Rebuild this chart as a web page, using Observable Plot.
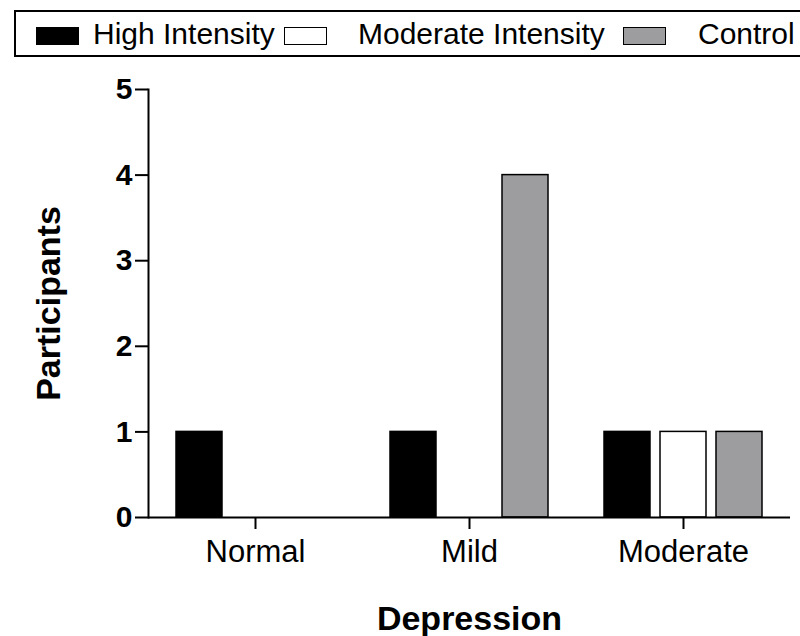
<!DOCTYPE html>
<html>
<head>
<meta charset="utf-8">
<script src="https://cdn.jsdelivr.net/npm/d3@7"></script>
<script src="https://cdn.jsdelivr.net/npm/@observablehq/plot@0.6"></script>
<style>
  body { margin: 0; background: #fff; font-family: "Liberation Sans", Arial, sans-serif; width: 800px; height: 636px; overflow: hidden; position: relative; }
  #legend { position: absolute; left: 14px; top: 10px; width: 820px; height: 47px; border: 2px solid #000; box-sizing: border-box; font-size: 30px; }
  .sw { position: absolute; top: 15px; width: 43px; height: 18px; border: 1.5px solid #000; box-sizing: border-box; }
  .lt { position: absolute; top: 6px; line-height: 32px; white-space: nowrap; }
  #chart { position: absolute; left: 0; top: 58px; }
  svg [aria-label="y-axis tick label"] text { font-weight: bold; font-size: 30px; }
  svg [aria-label="fx-axis tick label"] text { font-size: 31px; }
  svg [aria-label="y-axis label"] text, svg [aria-label="fx-axis label"] text { font-size: 34px; font-weight: bold; }
  svg [aria-label*="axis"], svg [aria-label*="axis"] path, svg [aria-label="frame"], svg [aria-label="frame"] * { stroke-width: 2px; }
</style>
</head>
<body>
<div id="legend"></div>
<div id="chart"></div>
<script>
const categories = ["Normal", "Mild", "Moderate"];
const groups = ["High Intensity", "Moderate Intensity", "Control"];
const highIntensity = [1, 1, 1];
const moderateIntensity = [0, 0, 1];
const control = [0, 4, 1];
const yTicks = [0, 1, 2, 3, 4, 5];
const groupColors = ["#000000", "#ffffff", "#9d9d9f"];

const series = [highIntensity, moderateIntensity, control];
const data = [];
categories.forEach((c, i) => {
  groups.forEach((g, j) => {
    data.push({category: c, group: g, value: series[j][i]});
  });
});

// Legend
const legend = document.getElementById("legend");
const swLeft = [20, 268, 607];
const txLeft = [77, 342, 682];
groups.forEach((g, j) => {
  const s = document.createElement("div");
  s.className = "sw";
  s.style.left = swLeft[j] + "px";
  s.style.background = groupColors[j];
  legend.appendChild(s);
  const t = document.createElement("div");
  t.className = "lt";
  t.style.left = txLeft[j] + "px";
  t.textContent = g;
  legend.appendChild(t);
});

const chart = Plot.plot({
  width: 800,
  height: 578,
  marginTop: 31,
  marginLeft: 147,
  marginRight: 10,
  marginBottom: 119,
  style: { fontFamily: "Liberation Sans, Arial, sans-serif", fontSize: "24px", color: "#000", background: "transparent", overflow: "visible" },
  fx: { domain: categories, padding: 0, axis: "bottom", tickSize: 12, tickPadding: 10,
        label: "Depression", labelAnchor: "center", labelArrow: "none", labelOffset: 112 },
  x: { domain: groups, paddingInner: 0.186, paddingOuter: 0.49, axis: null },
  y: { domain: [0, 5], ticks: yTicks, tickFormat: "d", tickSize: 13, tickPadding: 3, line: true,
       label: "Participants", labelAnchor: "center", labelArrow: "none", labelOffset: 113 },
  color: { domain: groups, range: groupColors },
  marks: [
    Plot.barY(data.filter(d => d.value > 0), { fx: "category", x: "group", y: "value", fill: "group", stroke: "#000", strokeWidth: 1.5 }),
    Plot.ruleY([0], { stroke: "#000", strokeWidth: 2 })
  ]
});
document.getElementById("chart").appendChild(chart);
</script>
</body>
</html>
